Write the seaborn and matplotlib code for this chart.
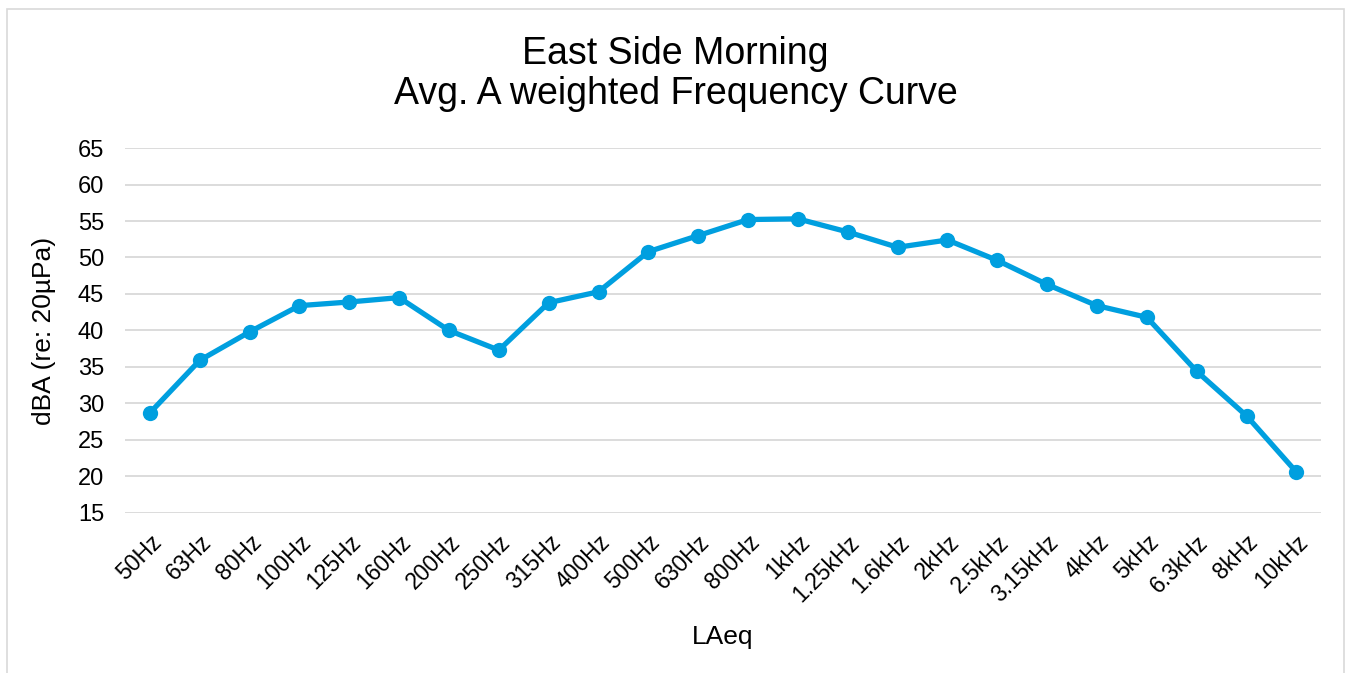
import numpy as np
import pandas as pd
import seaborn as sns
import matplotlib.pyplot as plt
from matplotlib.patches import Rectangle

bands = ["50Hz", "63Hz", "80Hz", "100Hz", "125Hz", "160Hz", "200Hz", "250Hz",
         "315Hz", "400Hz", "500Hz", "630Hz", "800Hz", "1kHz", "1.25kHz", "1.6kHz",
         "2kHz", "2.5kHz", "3.15kHz", "4kHz", "5kHz", "6.3kHz", "8kHz", "10kHz"]
dba = [28.7, 35.9, 39.8, 43.4, 43.9, 44.5, 40.0, 37.3,
       43.8, 45.3, 50.8, 53.0, 55.2, 55.3, 53.5, 51.4,
       52.4, 49.6, 46.3, 43.4, 41.8, 34.4, 28.3, 20.6]
y_ticks = [15, 20, 25, 30, 35, 40, 45, 50, 55, 60, 65]

df = pd.DataFrame({"band": bands, "dba": dba})

sns.set_theme(style="white")
plt.rcParams['font.family'] = ['Liberation Sans', 'DejaVu Sans']
plt.rcParams['text.color'] = 'black'
plt.rcParams['axes.labelcolor'] = 'black'
plt.rcParams['xtick.color'] = 'black'
plt.rcParams['ytick.color'] = 'black'

fig = plt.figure(figsize=(13.51, 6.73), dpi=100)
ax = fig.add_axes([0.0925, 0.238, 0.8855, 0.542])

line_color = "#009FDF"
sns.lineplot(data=df, x="band", y="dba", ax=ax, color=line_color, linewidth=3.8,
             marker="o", markersize=11, markeredgewidth=0, sort=False, zorder=3)

ax.set_xlim(-0.5, len(bands) - 0.5)
ax.set_ylim(15, 65)
ax.set_yticks(y_ticks)
ax.set_xticks(range(len(bands)))
ax.set_xticklabels(bands, rotation=45, ha="right", rotation_mode="anchor", fontsize=16.5)
ax.tick_params(axis="y", labelsize=17, length=0, pad=15)
ax.tick_params(axis="x", length=0, pad=13)
ax.grid(axis="y", color="#D9D9D9", linewidth=1.3)
ax.grid(axis="x", visible=False)
for s in ax.spines.values():
    s.set_visible(False)

ax.set_xlabel("LAeq", fontsize=19, labelpad=13)
ax.set_ylabel("dBA (re: 20\u00b5Pa)", fontsize=19, labelpad=16)
fig.text(0.5, 1 - 74 / 673, "East Side Morning\nAvg. A weighted Frequency Curve",
         ha="center", va="center", fontsize=27, linespacing=1.15)

# outer chart border
fig.add_artist(Rectangle((0.005, -0.01), 0.99, 0.997, transform=fig.transFigure,
                         fill=False, edgecolor="#D9D9D9", linewidth=1.2))

fig.savefig("out.png", dpi=100)
